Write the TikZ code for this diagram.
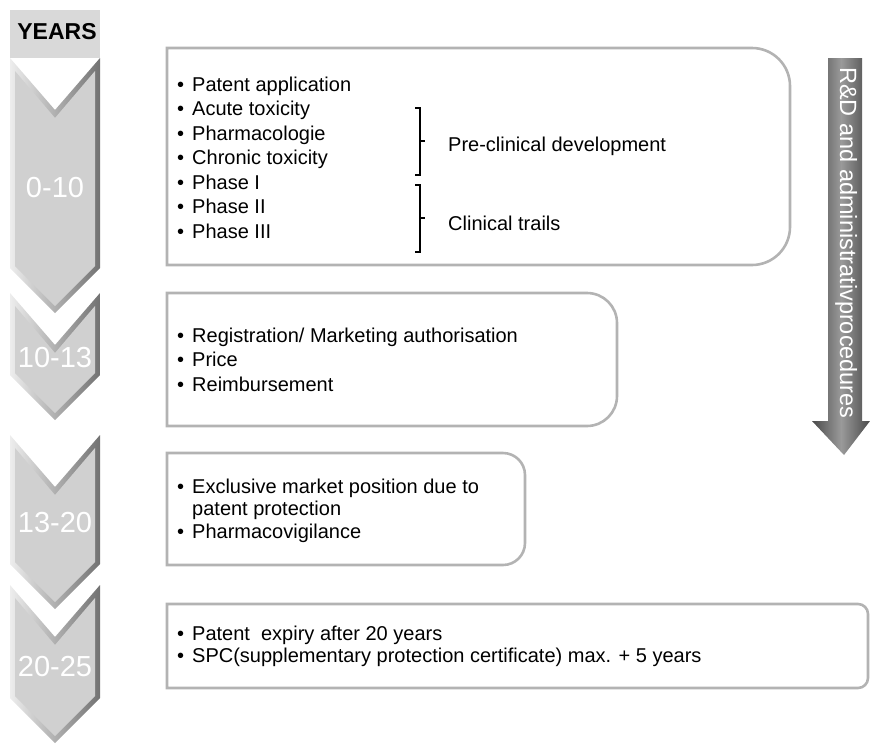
\documentclass[tikz,border=0pt]{standalone}
\usepackage{fontspec}
\setmainfont{Liberation Sans}
\usetikzlibrary{calc,positioning}
\usepackage{xcolor}

\definecolor{headgray}{HTML}{D9D9D9}
\definecolor{chevface}{HTML}{D0D0D0}
\definecolor{chevlight}{HTML}{EDEDED}
\definecolor{chevshade}{HTML}{727272}
\definecolor{framegray}{HTML}{B3B3B3}
\definecolor{arrowmid}{HTML}{9A9A9A}
\definecolor{arrowdark}{HTML}{4A4A4A}

\begin{document}
\begin{tikzpicture}[
    x=1pt, y=-1pt,
    stagebox/.style={draw=framegray, line width=2.6pt},
    items/.style={anchor=base west, inner sep=0pt, font=\fontsize{20}{24.5}\selectfont},
    yearlabel/.style={text=white, inner sep=0pt, font=\fontsize{29}{29}\selectfont},
    brace/.style={line width=1.1pt},
    bracelabel/.style={inner sep=0pt, yshift=-5pt, font=\fontsize{20}{24}\selectfont}
]
\useasboundingbox (0,0) rectangle (870,745);

% years column
\fill[headgray] (10,10) rectangle (100,58);
\node[font=\bfseries\fontsize{23}{23}\selectfont] (years) at (57,32) {YEARS};

\foreach \ya/\yb/\ly/\lab [count=\i] in {58/268/188/0-10, 293/375/358/10-13, 435/564/523/13-20, 585/698/667/20-25} {
  \shade[left color=chevlight, right color=chevshade]
    (10,\ya) -- (55,\ya+52) -- (100,\ya) -- (100,\yb) -- (55,\yb+45) -- (10,\yb) -- cycle;
  \fill[chevface]
    (15,\ya+13) -- (55,\ya+60) -- (95,\ya+13) -- (95,\yb-2) -- (55,\yb+38) -- (15,\yb-2) -- cycle;
  \node[yearlabel] (yr\i) at (55,\ly) {\lab};
}

% stage boxes
\draw[stagebox] (167,48) -- (752,48) arc[start angle=-90, end angle=0, radius=38]
  -- (790,227) arc[start angle=0, end angle=90, radius=38] -- (167,265) -- cycle;
\draw[stagebox] (167,293) -- (587,293) arc[start angle=-90, end angle=0, radius=30]
  -- (617,396) arc[start angle=0, end angle=90, radius=30] -- (167,426) -- cycle;
\draw[stagebox] (167,453) -- (503,453) arc[start angle=-90, end angle=0, radius=22]
  -- (525,543) arc[start angle=0, end angle=90, radius=22] -- (167,565) -- cycle;
\draw[stagebox] (167,604) -- (858,604) arc[start angle=-90, end angle=0, radius=10]
  -- (868,678) arc[start angle=0, end angle=90, radius=10] -- (167,688) -- cycle;

\node[items] (devlist) at (177,91) {\begin{tabular}[t]{@{}l@{\hspace{8pt}}l@{}}
  \textbullet & Patent application\\
  \textbullet & Acute toxicity\\
  \textbullet & Pharmacologie\\
  \textbullet & Chronic toxicity\\
  \textbullet & Phase I\\
  \textbullet & Phase II\\
  \textbullet & Phase III
\end{tabular}};

\node[items] (reglist) at (177,342) {\begin{tabular}[t]{@{}l@{\hspace{8pt}}l@{}}
  \textbullet & Registration/ Marketing authorisation\\
  \textbullet & Price\\
  \textbullet & Reimbursement
\end{tabular}};

\node[items, font=\fontsize{20}{22.5}\selectfont] (marketlist) at (177,493) {\begin{tabular}[t]{@{}l@{\hspace{8pt}}l@{}}
  \textbullet & Exclusive market position due to\\
   & patent protection\\
  \textbullet & Pharmacovigilance
\end{tabular}};

\node[items, font=\fontsize{20}{22}\selectfont] (expirylist) at (177,640) {\begin{tabular}[t]{@{}l@{\hspace{8pt}}l@{}}
  \textbullet & Patent\ \ expiry after 20 years\\
  \textbullet & SPC(supplementary protection certificate) max. + 5 years
\end{tabular}};

% brackets
\draw[brace] (415,108) -- (420,108) -- (420,175) -- (415,175);
\draw[brace] (415,185) -- (420,185) -- (420,252) -- (415,252);
\coordinate (tick1) at (425,141);
\coordinate (tick2) at (425,218);
\draw[brace] (420,141) -- (tick1);
\draw[brace] (420,218) -- (tick2);
\node[bracelabel, right=23pt of tick1] (preclin) {Pre-clinical development};
\node[bracelabel, right=23pt of tick2] (clin) {Clinical trails};

% R&D arrow
\shade[left color=arrowdark, right color=arrowdark, middle color=arrowmid]
  (828,58) -- (862,58) -- (862,421) -- (870,421) -- (844,455) -- (812,421) -- (828,421) -- cycle;
\node[rotate=-90, anchor=base, inner sep=0pt, text=white, font=\fontsize{23.5}{23.5}\selectfont]
  (rdlabel) at (840,243) {R\&D and administrativprocedures};

\end{tikzpicture}
\end{document}
